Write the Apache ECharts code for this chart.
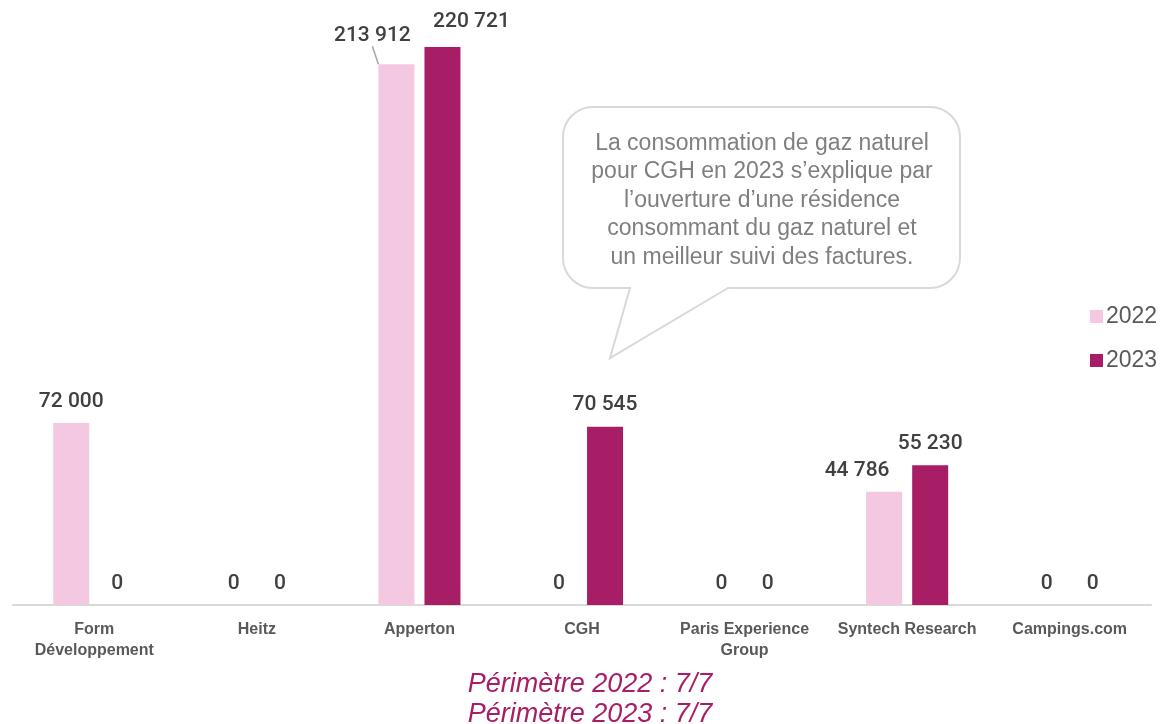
<!DOCTYPE html>
<html>
<head>
<meta charset="utf-8">
<script src="https://cdn.jsdelivr.net/npm/echarts@6/dist/echarts.min.js"></script>
<style>html,body{margin:0;padding:0;background:#fff;}#c{width:1160px;height:724px;}</style>
</head>
<body>
<div id="c"></div>
<script>
const categories = ['Form\nDéveloppement', 'Heitz', 'Apperton', 'CGH', 'Paris Experience\nGroup', 'Syntech Research', 'Campings.com'];
const seriesNames = ['2022', '2023'];
const values2022 = [72000, 0, 213912, 0, 0, 44786, 0];
const values2023 = [0, 0, 220721, 70545, 0, 55230, 0];
const footnotes = ['Périmètre 2022 : 7/7', 'Périmètre 2023 : 7/7'];
const calloutText = ['La consommation de gaz naturel', 'pour CGH en 2023 s\u2019explique par', 'l\u2019ouverture d\u2019une résidence', 'consommant du gaz naturel et', 'un meilleur suivi des factures.'];

const FONT = '"Liberation Sans", Arial, sans-serif';
const NUMFONT = 'Roboto, "Liberation Sans", sans-serif';
const fmt = v => String(v).replace(/\B(?=(\d{3})+(?!\d))/g, ' ');
const maxVal = Math.max(...values2022, ...values2023);

// label nudges (style only): dataIndex -> [dx, dy]
const nudge2022 = {2: [-24, -7], 5: [-27, 0]};
const nudge2023 = {2: [29, -4]};
const leaderIndex2022 = 2;

const labelCfg = {
  show: true, position: 'top', distance: 11,
  fontFamily: NUMFONT, fontSize: 21, color: '#404040', fontWeight: 500,
  formatter: p => fmt(p.value)
};
const layoutFrom = n => p => (n[p.dataIndex] ? {dx: n[p.dataIndex][0], dy: n[p.dataIndex][1]} : {});

const chart = echarts.init(document.getElementById('c'), null, {renderer: 'canvas'});
chart.setOption({
  animation: false,
  backgroundColor: '#fff',
  grid: {left: 13, right: 9, top: 47, bottom: 119, containLabel: false},
  legend: {
    orient: 'vertical', left: 1085, top: 300, itemWidth: 13, itemHeight: 13, itemGap: 21,
    icon: 'rect',
    textStyle: {fontFamily: FONT, fontSize: 23, color: '#595959', padding: [0, 0, 0, -2]},
    data: seriesNames
  },
  title: {
    text: footnotes.join('\n'), left: 585, textAlign: 'center', top: 664,
    textStyle: {fontFamily: FONT, fontSize: 27, fontStyle: 'italic', fontWeight: 'normal', color: '#A81E66', lineHeight: 30}
  },
  xAxis: {
    type: 'category', data: categories,
    axisLine: {lineStyle: {color: '#d9d9d9', width: 2}},
    axisTick: {show: false},
    axisLabel: {fontFamily: FONT, fontSize: 16, fontWeight: 'bold', color: '#595959', margin: 14, lineHeight: 21, interval: 0}
  },
  yAxis: {type: 'value', min: 0, max: maxVal, show: false, splitLine: {show: false}},
  series: [
    {
      name: seriesNames[0], type: 'bar', barWidth: 36, barGap: '28%',
      data: values2022.map((v, i) => i === leaderIndex2022 ? {value: v, labelLine: {show: true}} : v),
      itemStyle: {color: '#F4C8E0'},
      label: labelCfg,
      labelLayout: layoutFrom(nudge2022),
      labelLine: {show: false, lineStyle: {color: '#A6A6A6', width: 1.5}}
    },
    {
      name: seriesNames[1], type: 'bar', data: values2023, barWidth: 36,
      itemStyle: {color: '#A81E66'},
      label: labelCfg,
      labelLayout: layoutFrom(nudge2023),
      labelLine: {show: false}
    }
  ],
  graphic: [
    {
      type: 'rect', z: 10,
      shape: {x: 563, y: 107, width: 397, height: 181, r: 30},
      style: {fill: '#fff', stroke: '#D9D9D9', lineWidth: 2}
    },
    {
      type: 'rect', z: 11,
      shape: {x: 631, y: 285, width: 96, height: 6},
      style: {fill: '#fff'}
    },
    {
      type: 'polyline', z: 11,
      shape: {points: [[728, 288], [610, 358], [630, 288]]},
      style: {stroke: '#D9D9D9', lineWidth: 2, fill: null}
    },
    {
      type: 'text', z: 12, x: 762, y: 129,
      style: {text: calloutText.join('\n'), textAlign: 'center', fill: '#7F7F7F', fontFamily: FONT, fontSize: 23, lineHeight: 28.5}
    }
  ]
});
</script>
</body>
</html>
